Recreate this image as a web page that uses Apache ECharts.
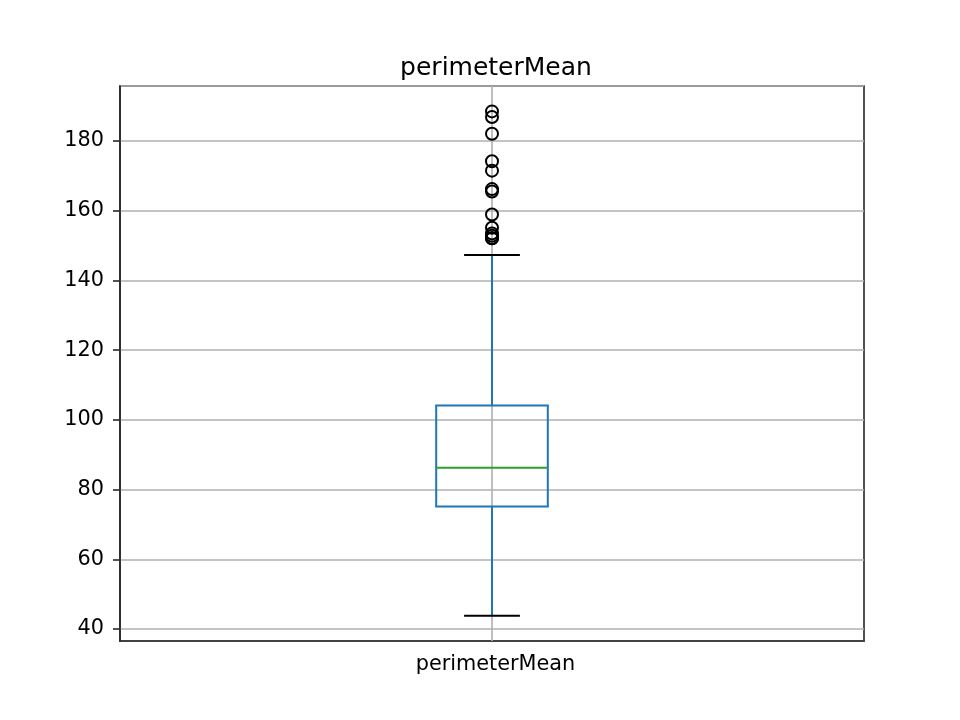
<!DOCTYPE html>
<html>
<head>
<meta charset="utf-8">
<script src="https://cdn.jsdelivr.net/npm/echarts@6/dist/echarts.min.js"></script>
<style>
  html, body { margin: 0; padding: 0; background: #fff; }
  #chart { width: 960px; height: 720px; }
</style>
</head>
<body>
<div id="chart"></div>
<script>
// box statistics: [min whisker, Q1, median, Q3, max whisker]
var categories = ['perimeterMean'];
var boxStats = [[43.79, 75.17, 86.24, 104.1, 147.3]];
var outliers = [188.5, 186.9, 182.1, 174.2, 171.5, 166.2, 165.5, 158.9, 155.1, 153.5, 152.8, 152.1, 152.1];
var yMin = 36.56, yMax = 195.78;

var chartDom = document.getElementById('chart');
var myChart = echarts.init(chartDom, null, { renderer: 'canvas', width: 960, height: 720 });

var boxData = boxStats.map(function (s, i) { return [i].concat(s); });
var outlierData = [];
boxStats.forEach(function (s, i) {
  outliers.forEach(function (v) { outlierData.push([i, v]); });
});

function renderBox(params, api) {
  var x = api.value(0);
  var lo = api.coord([x, api.value(1)]);
  var q1 = api.coord([x, api.value(2)]);
  var med = api.coord([x, api.value(3)]);
  var q3 = api.coord([x, api.value(4)]);
  var hi = api.coord([x, api.value(5)]);
  var band = api.size([1, 0])[0];
  var hw = band * 0.075;
  var cw = hw / 2;
  var cx = lo[0];
  var blue = { stroke: '#1f77b4', lineWidth: 2, fill: null };
  return {
    type: 'group',
    children: [
      { type: 'line', shape: { x1: cx, y1: q1[1], x2: cx, y2: lo[1] }, style: blue },
      { type: 'line', shape: { x1: cx, y1: q3[1], x2: cx, y2: hi[1] }, style: blue },
      { type: 'rect', shape: { x: cx - hw, y: q3[1], width: hw * 2, height: q1[1] - q3[1] }, style: blue },
      { type: 'line', shape: { x1: cx - hw, y1: med[1], x2: cx + hw, y2: med[1] }, style: { stroke: '#2ca02c', lineWidth: 2 } },
      { type: 'line', shape: { x1: cx - cw, y1: lo[1], x2: cx + cw, y2: lo[1] }, style: { stroke: '#000', lineWidth: 2 } },
      { type: 'line', shape: { x1: cx - cw, y1: hi[1], x2: cx + cw, y2: hi[1] }, style: { stroke: '#000', lineWidth: 2 } }
    ]
  };
}

var option = {
  animation: false,
  backgroundColor: '#fff',
  textStyle: { fontFamily: 'DejaVu Sans' },
  title: {
    text: 'perimeterMean',
    left: 491,
    top: 51,
    textAlign: 'center',
    textStyle: { fontFamily: 'DejaVu Sans', fontSize: 25, fontWeight: 'normal', color: '#000' }
  },
  grid: {
    left: 120, right: 96, top: 86, bottom: 79,
    show: true, borderColor: '#262626', borderWidth: 1.6
  },
  xAxis: {
    type: 'category',
    data: categories,
    boundaryGap: true,
    axisLine: { lineStyle: { color: '#262626', width: 1.6 } },
    axisTick: { alignWithLabel: true, length: 7, lineStyle: { color: '#262626', width: 1.6 } },
    axisLabel: { color: '#000', fontSize: 20.8, margin: 13, padding: [0, 0, 0, 7], fontFamily: 'DejaVu Sans' },
    splitLine: { show: false }
  },
  yAxis: {
    type: 'value',
    min: yMin,
    max: yMax,
    splitNumber: 8,
    minInterval: 20,
    maxInterval: 20,
    axisLine: { show: true, lineStyle: { color: '#262626', width: 1.6 } },
    axisTick: { show: true, length: 7, lineStyle: { color: '#262626', width: 1.6 } },
    axisLabel: { color: '#000', fontSize: 20.8, margin: 16, padding: [2, 0, 0, 0], showMinLabel: false, showMaxLabel: false, fontFamily: 'DejaVu Sans' },
    splitLine: { show: true, lineStyle: { color: '#b0b0b0', width: 1.6 } }
  },
  series: [
    {
      type: 'custom',
      renderItem: renderBox,
      data: boxData,
      z: 3,
      markLine: {
        silent: true,
        symbol: 'none',
        label: { show: false },
        lineStyle: { color: '#b0b0b0', width: 1.6, type: 'solid' },
        data: [{ xAxis: categories[0] }],
        z: 1
      }
    },
    {
      type: 'scatter',
      data: outlierData,
      symbol: 'circle',
      symbolSize: 12,
      itemStyle: { color: 'rgba(0,0,0,0)', borderColor: '#000', borderWidth: 2, opacity: 1 },
      z: 4
    }
  ]
};

myChart.setOption(option);
</script>
</body>
</html>
